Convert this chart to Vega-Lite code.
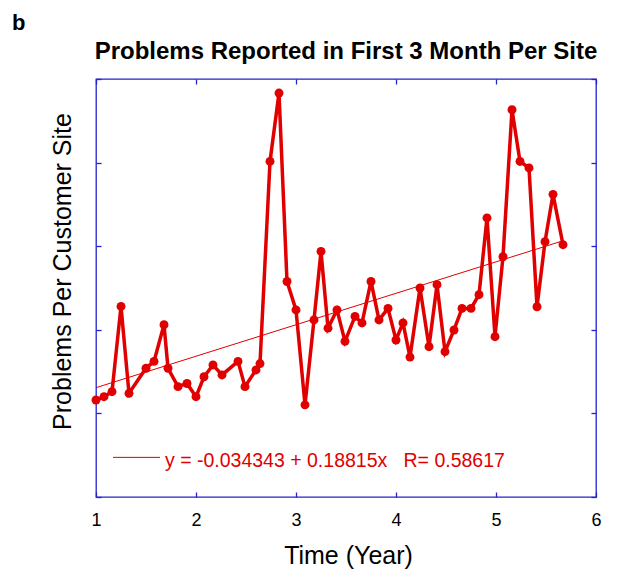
{
  "$schema": "https://vega.github.io/schema/vega-lite/v6.json",
  "width": 500,
  "height": 418,
  "autosize": {"type": "none"},
  "padding": {"left": 96, "top": 79, "right": 29, "bottom": 74},
  "background": "white",
  "config": {
    "view": {"stroke": "#2323cc", "strokeWidth": 1.3},
    "font": "Liberation Sans",
    "axis": {"grid": false, "domain": false, "tickColor": "#2323cc", "tickSize": -5, "tickWidth": 1.3}
  },
  "datasets": {
    "series": [
      {"t": 1.00, "p": 0.080}, {"t": 1.08, "p": 0.100}, {"t": 1.16, "p": 0.130}, {"t": 1.25, "p": 0.640},
      {"t": 1.33, "p": 0.120}, {"t": 1.50, "p": 0.270}, {"t": 1.58, "p": 0.311}, {"t": 1.68, "p": 0.530},
      {"t": 1.72, "p": 0.270}, {"t": 1.82, "p": 0.160}, {"t": 1.91, "p": 0.179}, {"t": 2.00, "p": 0.100},
      {"t": 2.08, "p": 0.219}, {"t": 2.17, "p": 0.290}, {"t": 2.26, "p": 0.230}, {"t": 2.42, "p": 0.311},
      {"t": 2.49, "p": 0.160}, {"t": 2.60, "p": 0.260}, {"t": 2.64, "p": 0.298}, {"t": 2.74, "p": 1.507},
      {"t": 2.83, "p": 1.916}, {"t": 2.91, "p": 0.789}, {"t": 3.00, "p": 0.619}, {"t": 3.09, "p": 0.051},
      {"t": 3.18, "p": 0.559}, {"t": 3.25, "p": 0.969}, {"t": 3.32, "p": 0.510}, {"t": 3.41, "p": 0.619},
      {"t": 3.49, "p": 0.431}, {"t": 3.59, "p": 0.580}, {"t": 3.66, "p": 0.541}, {"t": 3.75, "p": 0.789},
      {"t": 3.83, "p": 0.559}, {"t": 3.92, "p": 0.628}, {"t": 4.00, "p": 0.439}, {"t": 4.07, "p": 0.541},
      {"t": 4.14, "p": 0.337}, {"t": 4.24, "p": 0.750}, {"t": 4.33, "p": 0.399}, {"t": 4.41, "p": 0.770},
      {"t": 4.49, "p": 0.369}, {"t": 4.58, "p": 0.499}, {"t": 4.66, "p": 0.628}, {"t": 4.75, "p": 0.628},
      {"t": 4.83, "p": 0.710}, {"t": 4.91, "p": 1.169}, {"t": 4.99, "p": 0.459}, {"t": 5.07, "p": 0.937},
      {"t": 5.16, "p": 1.816}, {"t": 5.24, "p": 1.507}, {"t": 5.33, "p": 1.468}, {"t": 5.41, "p": 0.638},
      {"t": 5.49, "p": 1.027}, {"t": 5.57, "p": 1.310}, {"t": 5.67, "p": 1.009}
    ],
    "fit": [{"t": 1.0, "p": 0.1538}, {"t": 5.67, "p": 1.0325}],
    "legendline": [{"t": 1.17, "p": -0.263}, {"t": 1.64, "p": -0.263}],
    "labels": [
      {"t": 1.69, "p": -0.323, "label": "y = -0.034343 + 0.18815x\u00a0\u00a0\u00a0R= 0.58617", "kind": "legend"},
      {"t": 0.16, "p": 2.295, "label": "b", "kind": "panel"},
      {"t": 3.5, "p": 2.121, "label": "Problems Reported in First 3 Month Per Site", "kind": "title"}
    ]
  },
  "resolve": {"axis": {"x": "independent", "y": "independent"}},
  "layer": [
    {
      "data": {"name": "fit"},
      "mark": {"type": "line", "color": "#e00000", "strokeWidth": 1},
      "encoding": {
        "x": {"field": "t", "type": "quantitative",
              "scale": {"domain": [1, 6], "nice": false, "zero": false},
              "axis": {"orient": "bottom", "values": [1, 2, 3, 4, 5, 6], "title": "Time (Year)",
                       "labelFontSize": 18, "labelColor": "black", "labelBaseline": "alphabetic", "labelPadding": 33.7,
                       "labelFont": "Liberation Sans", "labelFlush": false,
                       "titleFontSize": 25, "titleFontWeight": "normal", "titleColor": "black", "titleFont": "Liberation Sans",
                       "titleBaseline": "alphabetic", "titleX": 252, "titleY": 66, "titleAlign": "center"}},
        "y": {"field": "p", "type": "quantitative",
              "scale": {"domain": [-0.5, 2], "nice": false, "zero": false},
              "axis": {"orient": "left", "values": [-0.5, 0, 0.5, 1, 1.5, 2], "labels": false,
                       "title": "Problems Per Customer Site",
                       "titleFontSize": 25, "titleFontWeight": "normal", "titleColor": "black", "titleFont": "Liberation Sans",
                       "titleAngle": -90, "titleBaseline": "alphabetic", "titleAlign": "center", "titleX": -26, "titleY": 192}}
      }
    },
    {
      "data": {"name": "series"},
      "mark": {"type": "line", "color": "#e00000", "strokeWidth": 3.5, "point": {"filled": true, "size": 80, "color": "#e00000", "opacity": 1}},
      "encoding": {
        "x": {"field": "t", "type": "quantitative",
              "scale": {"domain": [1, 6], "nice": false, "zero": false},
              "axis": {"orient": "top", "values": [1, 2, 3, 4, 5, 6], "labels": false, "title": null}},
        "y": {"field": "p", "type": "quantitative",
              "scale": {"domain": [-0.5, 2], "nice": false, "zero": false},
              "axis": {"orient": "right", "values": [-0.5, 0, 0.5, 1, 1.5, 2], "labels": false, "title": null}}
      }
    },
    {
      "data": {"name": "legendline"},
      "mark": {"type": "line", "color": "#e00000", "strokeWidth": 1},
      "encoding": {
        "x": {"field": "t", "type": "quantitative", "axis": null},
        "y": {"field": "p", "type": "quantitative", "axis": null}
      }
    },
    {
      "data": {"name": "labels"},
      "transform": [{"filter": "datum.kind === 'legend'"}],
      "mark": {"type": "text", "align": "left", "baseline": "alphabetic", "fontSize": 19.5, "color": "#e00000", "font": "Liberation Sans"},
      "encoding": {
        "x": {"field": "t", "type": "quantitative", "axis": null},
        "y": {"field": "p", "type": "quantitative", "axis": null},
        "text": {"field": "label"}
      }
    },
    {
      "data": {"name": "labels"},
      "transform": [{"filter": "datum.kind === 'panel'"}],
      "mark": {"type": "text", "align": "left", "baseline": "alphabetic", "fontSize": 22, "fontWeight": "bold", "color": "black", "font": "Liberation Sans"},
      "encoding": {
        "x": {"field": "t", "type": "quantitative", "axis": null},
        "y": {"field": "p", "type": "quantitative", "axis": null},
        "text": {"field": "label"}
      }
    },
    {
      "data": {"name": "labels"},
      "transform": [{"filter": "datum.kind === 'title'"}],
      "mark": {"type": "text", "align": "center", "baseline": "alphabetic", "fontSize": 24, "fontWeight": "bold", "color": "black", "font": "Liberation Sans"},
      "encoding": {
        "x": {"field": "t", "type": "quantitative", "axis": null},
        "y": {"field": "p", "type": "quantitative", "axis": null},
        "text": {"field": "label"}
      }
    }
  ]
}
